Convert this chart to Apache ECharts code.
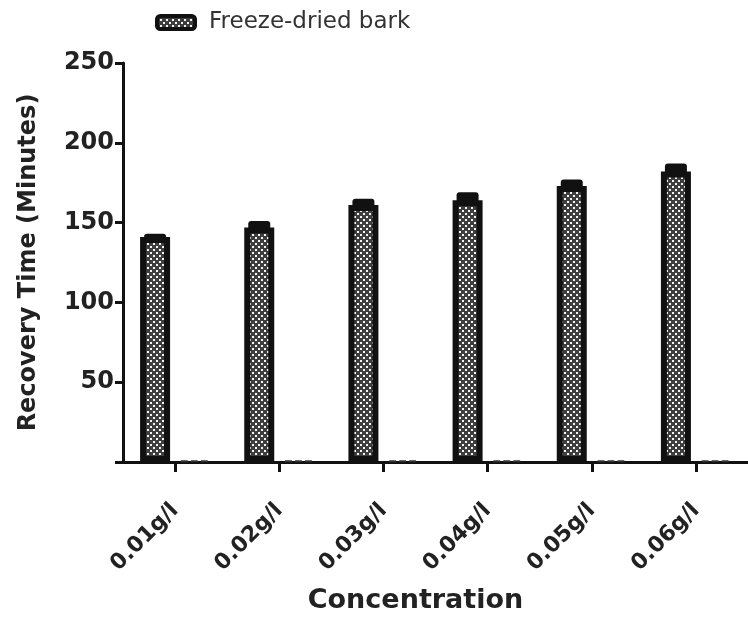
<!DOCTYPE html>
<html>
<head>
<meta charset="utf-8">
<script src="https://cdn.jsdelivr.net/npm/echarts@6/dist/echarts.min.js"></script>
<style>html,body{margin:0;padding:0;background:#fff}#c{width:748px;height:619px}</style>
</head>
<body>
<div id="c"></div>
<script>
const categories = ['0.01g/l','0.02g/l','0.03g/l','0.04g/l','0.05g/l','0.06g/l'];
const barkValues = [141, 147, 161, 164, 173, 182];
const barkErrors = [2, 4, 4, 5, 4, 5];
const otherValues = [1, 1, 1, 1, 1, 1];
const yTicks = [0, 50, 100, 150, 200, 250];

const BAR_W = 30, GAP = 10;
const FONT = 'DejaVu Sans, Verdana, sans-serif';

function makePattern() {
  const c = document.createElement('canvas');
  c.width = 6; c.height = 6;
  const g = c.getContext('2d');
  g.fillStyle = '#3e3e3e'; g.fillRect(0,0,6,6);
  g.fillStyle = '#f4f4f4';
  g.fillRect(0,0,2,2); g.fillRect(3,3,2,2);
  return c;
}
const pattern = { image: makePattern(), repeat: 'repeat' };

const chart = echarts.init(document.getElementById('c'));
chart.setOption({
  animation: false,
  backgroundColor: '#fff',
  textStyle: { fontFamily: FONT },
  legend: {
    data: [{ name: 'Freeze-dried bark', itemStyle: { borderWidth: 4, borderColor: '#111' } }],
    left: 155, top: 11, padding: 0,
    itemWidth: 38, itemHeight: 13,
    textStyle: { fontSize: 23, color: '#333', fontFamily: FONT, padding: [0, 0, 0, 9] }
  },
  grid: { left: 123, top: 63, right: -4, bottom: 156, containLabel: false },
  xAxis: {
    type: 'category',
    data: categories,
    axisLine: { lineStyle: { color: '#111', width: 3 } },
    axisTick: { show: true, alignWithLabel: true, length: 10, lineStyle: { width: 3, color: '#111' }, interval: 0 },
    axisLabel: { rotate: 45, interval: 0, margin: 45, fontSize: 22, fontWeight: 'bold', color: '#222', fontFamily: FONT },
    name: 'Concentration',
    nameLocation: 'middle',
    nameGap: 125,
    nameTextStyle: { fontSize: 27, fontWeight: 'bold', color: '#222', fontFamily: FONT, padding: [0, 40, 0, 0] }
  },
  yAxis: {
    type: 'value',
    min: yTicks[0], max: yTicks[yTicks.length - 1], interval: 50,
    axisLine: { show: true, lineStyle: { color: '#111', width: 3 } },
    axisTick: { show: true, length: 8, lineStyle: { width: 3, color: '#111' } },
    splitLine: { show: false },
    axisLabel: { fontSize: 24, fontWeight: 'bold', color: '#222', margin: 9, fontFamily: FONT,
      formatter: v => (v === 0 ? '' : String(v)) },
    name: 'Recovery Time (Minutes)',
    nameLocation: 'middle',
    nameGap: 82,
    nameTextStyle: { fontSize: 24, fontWeight: 'bold', color: '#222', fontFamily: FONT }
  },
  series: [
    {
      name: 'Freeze-dried bark',
      type: 'bar',
      data: barkValues,
      barWidth: BAR_W,
      barGap: (GAP / BAR_W * 100) + '%',
      itemStyle: { color: pattern, borderColor: '#111', borderWidth: 6 },
      z: 2
    },
    {
      name: 'Other',
      type: 'bar',
      data: otherValues,
      barWidth: BAR_W,
      itemStyle: { color: 'rgba(0,0,0,0)', borderColor: '#333', borderWidth: 2, borderType: [6, 4] },
      z: 1
    },
    {
      name: 'err',
      type: 'custom',
      z: 5,
      data: barkValues.map((v, i) => [i, v, barkErrors[i]]),
      renderItem: function (params, api) {
        const i = api.value(0), v = api.value(1), e = api.value(2);
        const p0 = api.coord([i, v]);
        const p1 = api.coord([i, v + e]);
        const x = p0[0] - (BAR_W + GAP) / 2;
        const w = 22;
        return {
          type: 'rect',
          shape: { x: x - w / 2, y: p1[1], width: w, height: p0[1] - p1[1] + 3, r: 3 },
          style: { fill: '#111' }
        };
      }
    }
  ]
});
</script>
</body>
</html>
